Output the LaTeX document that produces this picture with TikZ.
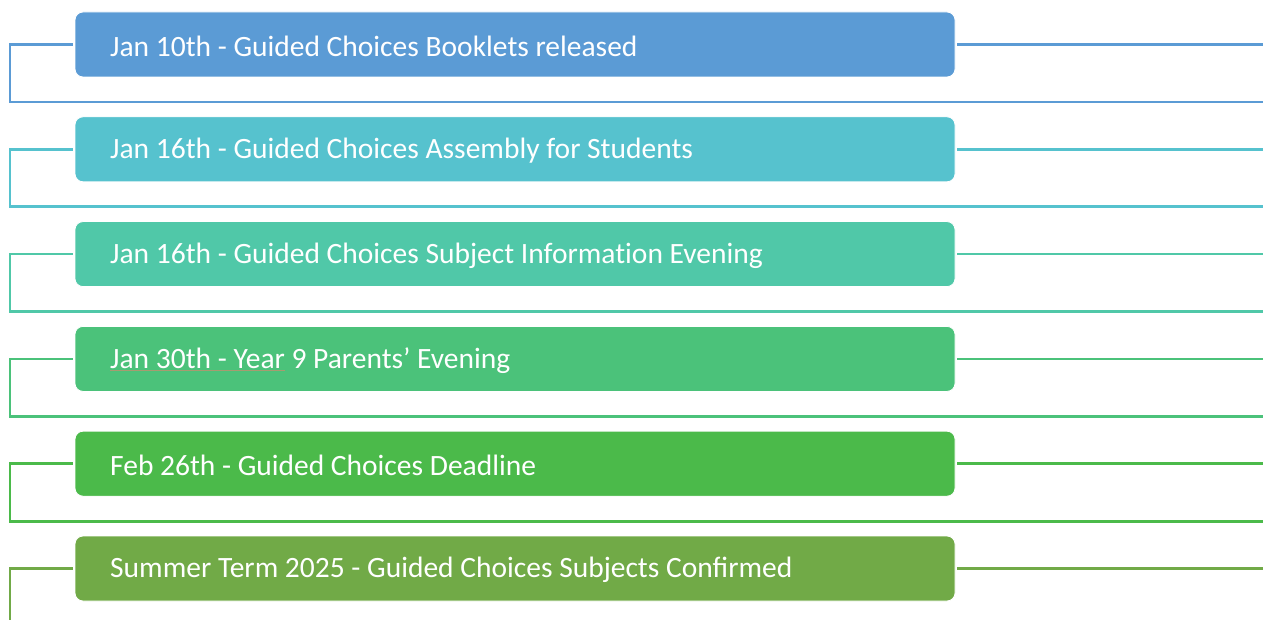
\documentclass[tikz,border=0pt]{standalone}
\usepackage{fontspec}
\setmainfont{Carlito}
\definecolor{c1}{HTML}{5B9BD5}
\definecolor{c2}{HTML}{56C2CE}
\definecolor{c3}{HTML}{50C8A8}
\definecolor{c4}{HTML}{4BC27A}
\definecolor{c5}{HTML}{4BBA4A}
\definecolor{c6}{HTML}{71AA47}
\definecolor{ulcol}{HTML}{A89A70}
\newcommand\myul[1]{\setbox0\hbox{#1}\rlap{\color{ulcol}\rule[-3pt]{\wd0}{0.8pt}}\box0}
\begin{document}
\begin{tikzpicture}[x=1pt,y=-1pt,
  evbox/.style={draw=white,line width=0.8pt,fill=#1,rounded corners=8pt,minimum width=880pt,minimum height=65pt,inner sep=0pt},
  evtext/.style={anchor=west,text=white,font=\fontsize{29.5}{34}\selectfont,inner sep=0pt},
  link/.style={draw=#1,line width=2.6pt}]
\useasboundingbox (0,0) rectangle (1263,620);
\foreach \i/\col/\txt in {
  1/c1/{Jan 10th - Guided Choices Booklets released},
  2/c2/{Jan 16th - Guided Choices Assembly for Students},
  3/c3/{Jan 16th - Guided Choices Subject Informat\kern0pt ion Evening},
  4/c4/{\myul{Jan 30th - Year}\ 9 Parents’ Evening},
  5/c5/{Feb 26th - Guided Choices Deadline},
  6/c6/{Summer Term 2025 - Guided Choices Subjects Confirmed}} {
  \pgfmathsetmacro{\cy}{44.5+104.8*(\i-1)}
  \pgfmathsetmacro{\by}{\i==6 ? 625 : 102+104.8*(\i-1)}
  \coordinate (l\i) at (10,\cy);
  \coordinate (lb\i) at (10,\by);
  \coordinate (rb\i) at (1263,\by);
  \coordinate (re\i) at (1263,\cy);
  \node[evbox=\col] (b\i) at (515,\cy) {};
  \node[evtext] (t\i) at (110,\cy+1.5) {\txt};
  \draw[link=\col,shorten <=2pt] (b\i.west) -- (l\i) -- (lb\i) -- (rb\i);
  \draw[link=\col,shorten <=2pt] (b\i.east) -- (re\i);
}
\end{tikzpicture}
\end{document}
